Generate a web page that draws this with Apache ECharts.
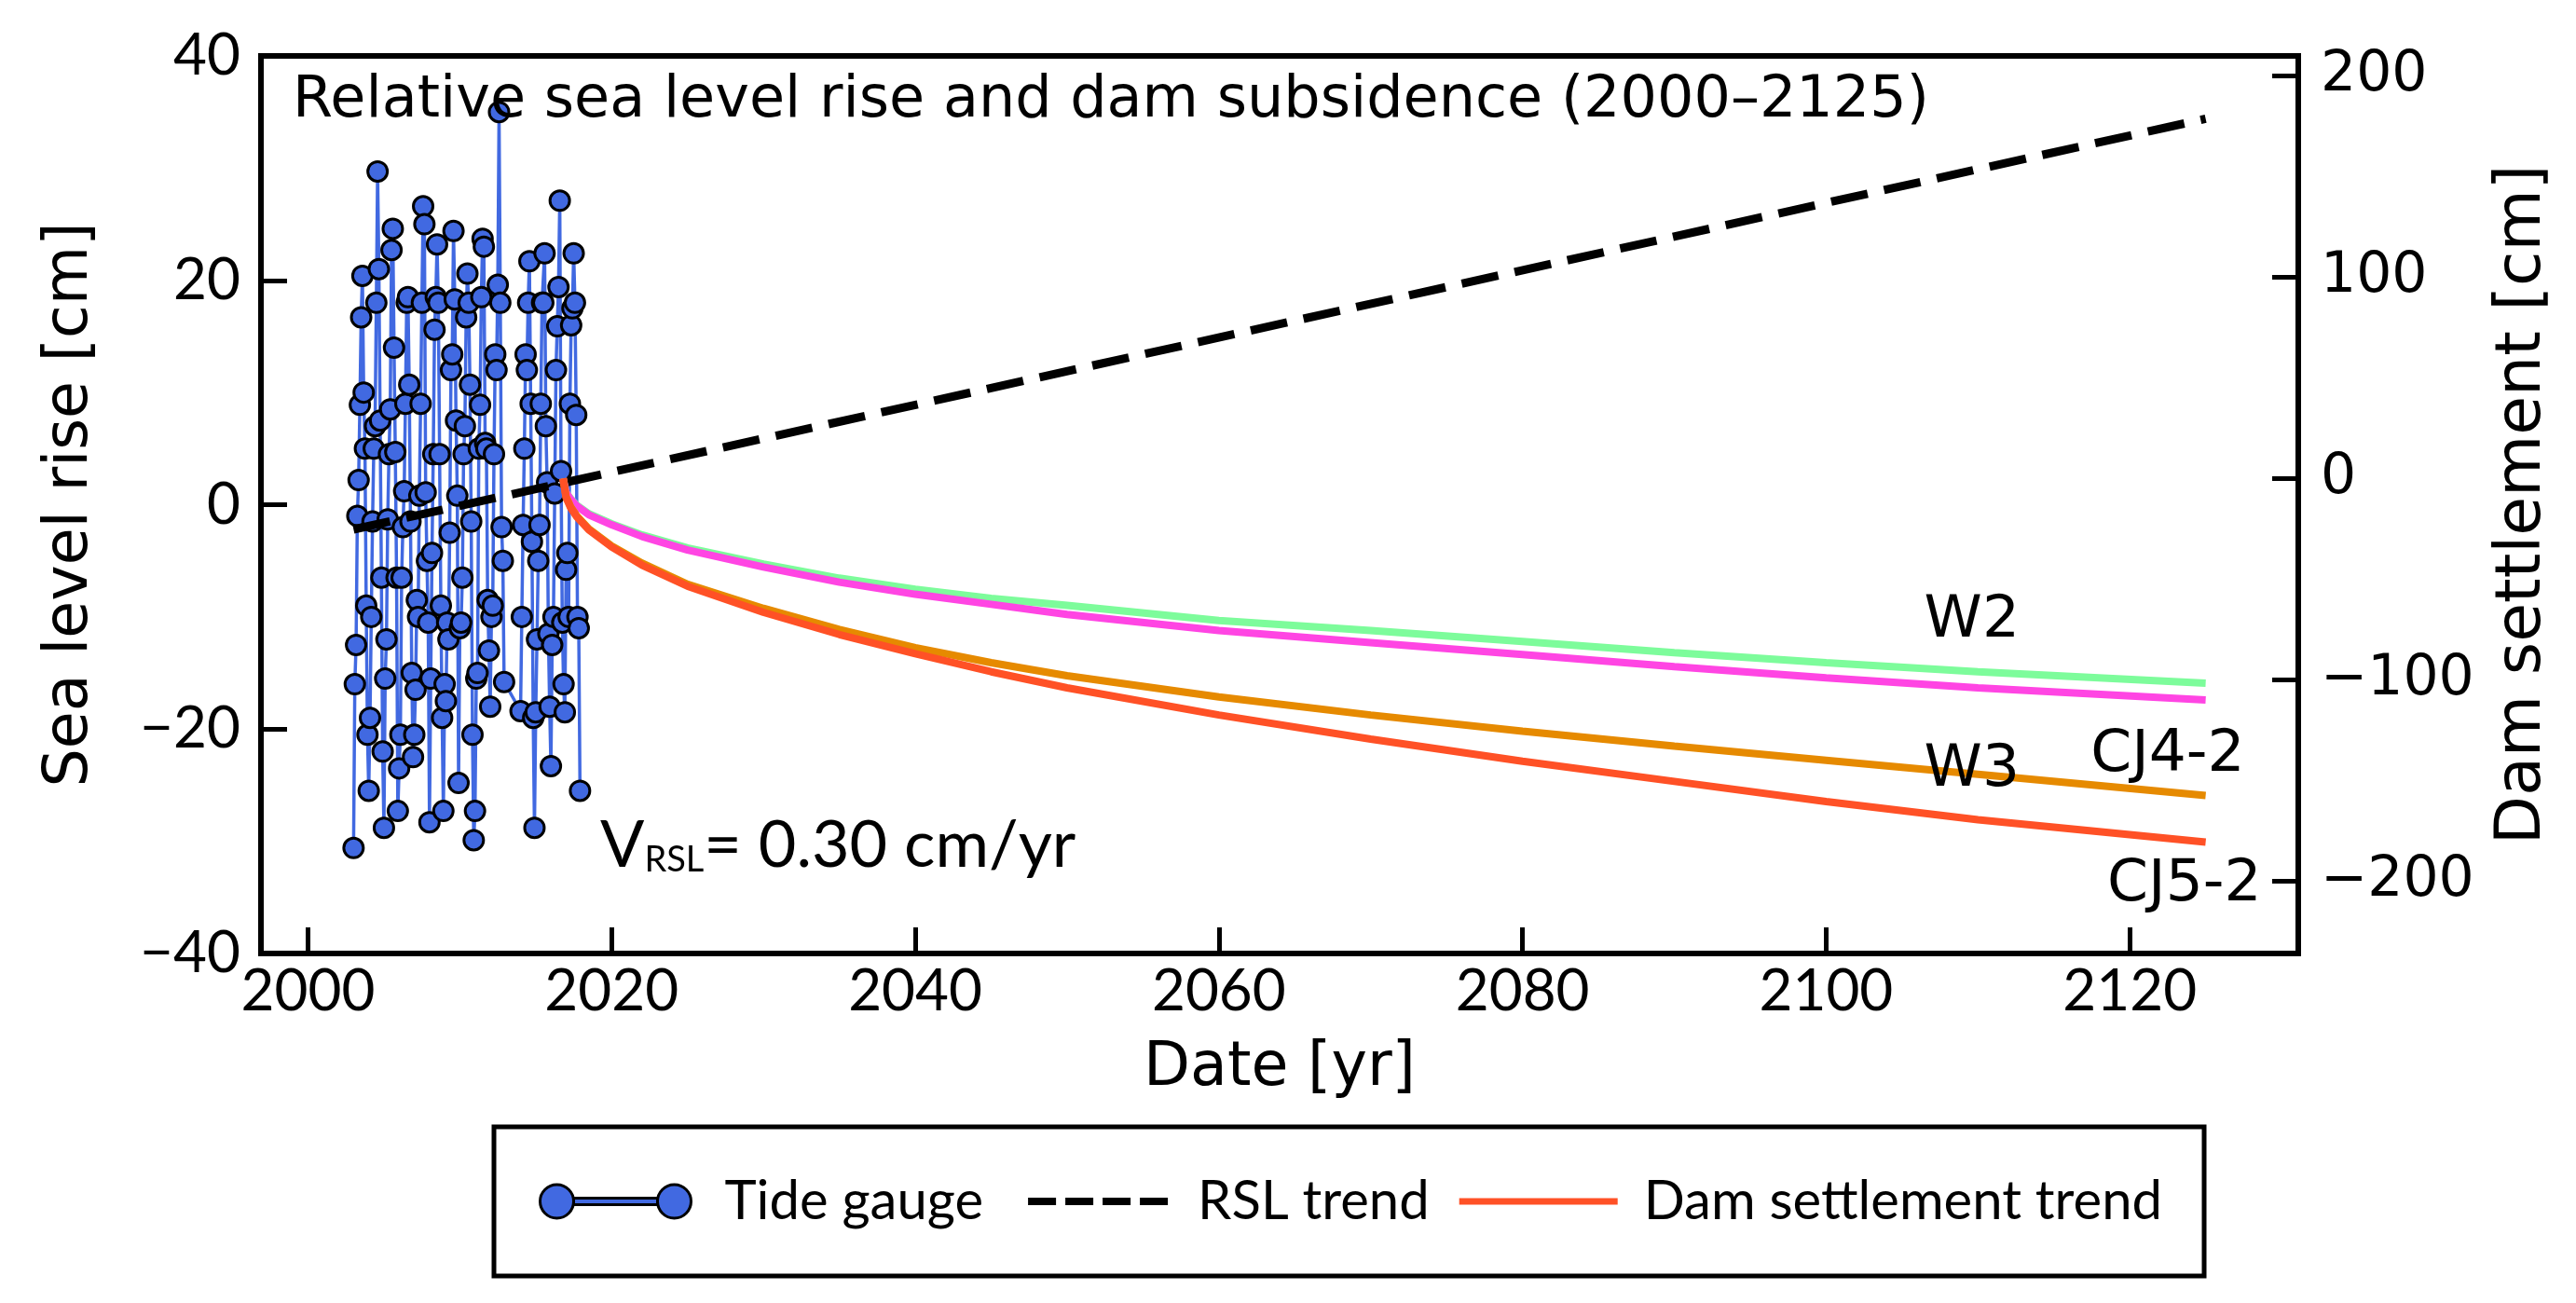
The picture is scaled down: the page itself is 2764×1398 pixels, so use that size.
<!DOCTYPE html>
<html>
<head>
<meta charset="utf-8">
<title>Relative sea level rise and dam subsidence</title>
<script src="https://cdn.jsdelivr.net/npm/echarts@6.0.0/dist/echarts.min.js"></script>
<style>
  html, body { margin: 0; padding: 0; background: #fff; }
  #main { width: 2764px; height: 1398px; }
</style>
</head>
<body>
<div id="main"></div>
<script>
// tide gauge, monthly means [cm], Jan..Dec (2013 missing)
var tideYears = [2003, 2004, 2005, 2006, 2007, 2008, 2009, 2010, 2011, 2012, 2014, 2015, 2016, 2017];
var tideMonthly = [
  [-30.6, -16, -12.5, -1, 2.2, 8.9, 16.7, 20.4, 10, 5, -9, -20.5],
  [-25.5, -19, -10, -1.5, 5, 7, 18, 29.7, 21, 7.5, -6.5, -22],
  [-28.8, -15.5, -12, -1.3, 4.5, 8.5, 22.7, 24.6, 14, 4.7, -6.5, -27.3],
  [-23.5, -20.5, -6.5, -2, 1.2, 9, 18, 18.5, 10.7, -1.5, -15, -22.5],
  [-20.5, -16.5, -8.5, -10, 0.8, 9, 18, 26.6, 25, 1.1, -5, -10.5],
  [-28.3, -15.5, -4.3, 4.5, 15.6, 18.5, 23.2, 18, 4.5, -9, -19, -27.3],
  [-16, -17.5, -10.5, -12, -2.5, 12, 13.4, 24.4, 18.3, 7.5, 0.8, -24.8],
  [-11, -10.5, -6.5, 4.5, 7, 16.7, 20.6, 18, 10.7, -1.5, -20.5, -29.9],
  [-27.3, -15.5, -15, 5, 8.9, 18.5, 23.7, 23, 5.5, 5, -8.5, -13],
  [-18, -10, -9, 4.5, 13.4, 12, 19.6, 35, 18, -2, -5, -15.8],
  [-18.4, -10, -1.8, 5, 13.4, 12, 18, 21.7, 9, -3.3, -19, -28.8],
  [-18.5, -12, -5, -1.8, 9, 18, 18, 22.4, 7, 2, -11.5, -18],
  [-23.3, -12.5, -10, 1, 12, 15.9, 19.4, 27.1, 3, -10.5, -16, -18.5],
  [-5.8, -4.3, -10, 9, 16, 17.5, 22.4, 18, 8, -10, -11, -25.5]
];

// relative sea level trend (0.30 cm/yr), left axis
var rslYears = [2003, 2125];
var rslValues = [-2.2, 34.4];

// dam settlement trends [cm], right axis
var damYears = [2016.8, 2017.0, 2017.3, 2017.7, 2018.5, 2020, 2022, 2025, 2030, 2035, 2040, 2045, 2050, 2060, 2070, 2080, 2090, 2100, 2110, 2125];
var damW2   = [0, -7, -10, -13.3, -17.5, -22.5, -28, -34.5, -42.5, -49.5, -55, -59.5, -63, -70.5, -75.5, -81, -86.5, -91.5, -96, -101.7];
var damW3   = [0, -7, -10.3, -13.6, -18, -23, -28.8, -35.5, -44, -51.5, -57.5, -62.5, -67.5, -75.5, -81.5, -87.5, -93.5, -99, -104, -110];
var damCJ42 = [0, -9, -14, -18.5, -25, -33.5, -42, -52.5, -64.5, -75, -84, -91.5, -98, -108.5, -117.5, -125.5, -133, -140, -147, -157.5];
var damCJ52 = [0, -9.5, -14.5, -19, -25.5, -34, -43, -53.5, -66.5, -77.5, -87, -96, -104, -117.5, -129.5, -140.5, -150.5, -160.5, -169.5, -180.7];

var xTicks = [2000, 2020, 2040, 2060, 2080, 2100, 2120];
var rightTicks = [-200, -100, 0, 100, 200];

// curve names and where they are written (year, settlement)
var curveNames = ['W2', 'W3', 'CJ4-2', 'CJ5-2'];
var curveNameYears = [2109.6, 2109.6, 2122.5, 2123.6];
var curveNameValues = [-71, -145, -137.5, -202];

var SANS = 'Lato';
var DEJAVU = 'DejaVu Sans';

function pairs(xs, ys) {
  return xs.map(function (x, i) { return [x, ys[i]]; });
}
function minus(v) {
  return String(v).replace('-', '\u2212');
}

var tideData = [];
tideYears.forEach(function (yr, k) {
  tideMonthly[k].forEach(function (v, m) {
    tideData.push([yr + m / 12, v]);
  });
});

var labelData = curveNames.map(function (n, i) {
  return { name: n, value: [curveNameYears[i], curveNameValues[i]] };
});

var chart = echarts.init(document.getElementById('main'));

var tickStyle = { color: '#000', width: 5 };
var tickText = { fontSize: 62, fontFamily: SANS, color: '#000' };
var nameText = { fontSize: 65, fontFamily: DEJAVU, color: '#000' };
// every legend icon shares a 181 x 36 box
var bbox = ' M0,0 Z M181,36 Z';

var option = {
  animation: false,
  backgroundColor: '#fff',
  title: {
    text: 'Relative sea level rise and dam subsidence (2000\u20132125)',
    left: 314,
    top: 78,
    padding: 0,
    textStyle: { fontSize: 62, fontWeight: 'normal', fontFamily: DEJAVU, color: '#000' }
  },
  grid: {
    left: 280, right: 298, top: 60, bottom: 375,
    show: true, borderColor: '#000', borderWidth: 6,
    outerBoundsMode: 'none'
  },
  legend: {
    left: 530,
    top: 1209,
    orient: 'horizontal',
    padding: [44, 45, 44, 48],
    itemGap: 32,
    itemWidth: 181,
    itemHeight: 36,
    borderColor: '#000',
    borderWidth: 5,
    borderRadius: 0,
    backgroundColor: '#fff',
    textStyle: { fontSize: 58, fontFamily: SANS, color: '#000', lineHeight: 72, padding: [0, 0, 0, 12] },
    data: [
      {
        name: 'Tide gauge',
        icon: 'path://M0,18 a18,18 0 1,0 36,0 a18,18 0 1,0 -36,0 Z M36,14.5 L126,14.5 L126,21.5 L36,21.5 Z M126,18 a18,18 0 1,0 36,0 a18,18 0 1,0 -36,0 Z' + bbox,
        itemStyle: { color: '#4169e1', borderColor: '#000', borderWidth: 3 }
      },
      {
        name: 'RSL trend',
        icon: 'path://M16,14 L46,14 L46,22 L16,22 Z M56,14 L86,14 L86,22 L56,22 Z M96,14 L126,14 L126,22 L96,22 Z M136,14 L166,14 L166,22 L136,22 Z' + bbox,
        itemStyle: { color: '#000', borderWidth: 0 }
      },
      {
        name: 'Dam settlement trend',
        icon: 'path://M0,14.5 L170,14.5 L170,21.5 L0,21.5 Z' + bbox,
        itemStyle: { color: '#ff5126', borderWidth: 0 }
      }
    ]
  },
  xAxis: {
    type: 'value',
    min: 1996.9,
    max: 2131.1,
    name: 'Date [yr]',
    nameLocation: 'middle',
    nameGap: 92,
    nameTextStyle: nameText,
    axisLine: { show: true, onZero: false, lineStyle: { color: '#000', width: 6 } },
    axisTick: { show: true, inside: true, length: 28, customValues: xTicks, lineStyle: tickStyle },
    axisLabel: Object.assign({ customValues: xTicks, margin: 10, formatter: function (v) { return String(v); } }, tickText),
    splitLine: { show: false }
  },
  yAxis: [
    {
      type: 'value',
      position: 'left',
      min: -40,
      max: 40,
      interval: 20,
      name: 'Sea level rise [cm]',
      nameLocation: 'middle',
      nameRotate: 90,
      nameGap: 171,
      nameTextStyle: nameText,
      axisLine: { show: true, onZero: false, lineStyle: { color: '#000', width: 6 } },
      axisTick: { show: true, inside: true, length: 28, lineStyle: tickStyle },
      axisLabel: Object.assign({ margin: 22, formatter: minus }, tickText),
      splitLine: { show: false }
    },
    {
      type: 'value',
      position: 'right',
      min: -236,
      max: 210,
      name: 'Dam settlement [cm]',
      nameLocation: 'middle',
      nameRotate: 90,
      nameGap: 207,
      nameTextStyle: { fontSize: 68, fontFamily: DEJAVU, color: '#000' },
      axisLine: { show: true, onZero: false, lineStyle: { color: '#000', width: 6 } },
      axisTick: { show: true, inside: true, length: 28, customValues: rightTicks, lineStyle: tickStyle },
      axisLabel: { margin: 24, customValues: rightTicks, formatter: minus, fontSize: 60, fontFamily: DEJAVU, color: '#000' },
      splitLine: { show: false }
    }
  ],
  graphic: [
    {
      type: 'text',
      left: 644,
      top: 872,
      style: {
        text: '{v|V}{s|RSL}{v|= 0.30 cm/yr}',
        rich: {
          v: { fontSize: 70, fontFamily: SANS, fill: '#000', lineHeight: 84, verticalAlign: 'bottom' },
          s: { fontSize: 38, fontFamily: SANS, fill: '#000', lineHeight: 36, verticalAlign: 'bottom' }
        }
      }
    }
  ],
  series: [
    {
      name: 'Tide gauge',
      type: 'line',
      data: tideData,
      z: 2,
      symbol: 'circle',
      symbolSize: 21,
      showAllSymbol: true,
      lineStyle: { color: '#4169e1', width: 3.5 },
      itemStyle: { color: '#4169e1', borderColor: '#000', borderWidth: 3 }
    },
    {
      name: 'RSL trend',
      type: 'line',
      data: pairs(rslYears, rslValues),
      z: 3,
      symbol: 'none',
      lineStyle: { color: '#000', width: 9, type: [40, 18] },
      itemStyle: { color: '#000' }
    },
    {
      name: 'W2',
      type: 'line',
      yAxisIndex: 1,
      data: pairs(damYears, damW2),
      z: 4,
      symbol: 'none',
      lineStyle: { color: '#7dfc9b', width: 8 },
      itemStyle: { color: '#7dfc9b' }
    },
    {
      name: 'W3',
      type: 'line',
      yAxisIndex: 1,
      data: pairs(damYears, damW3),
      z: 5,
      symbol: 'none',
      lineStyle: { color: '#ff45e3', width: 8 },
      itemStyle: { color: '#ff45e3' }
    },
    {
      name: 'CJ4-2',
      type: 'line',
      yAxisIndex: 1,
      data: pairs(damYears, damCJ42),
      z: 6,
      symbol: 'none',
      lineStyle: { color: '#e68a00', width: 8 },
      itemStyle: { color: '#e68a00' }
    },
    {
      name: 'Dam settlement trend',
      type: 'line',
      yAxisIndex: 1,
      data: pairs(damYears, damCJ52),
      z: 7,
      symbol: 'none',
      lineStyle: { color: '#ff5126', width: 8 },
      itemStyle: { color: '#ff5126' }
    },
    {
      name: 'curve names',
      type: 'scatter',
      yAxisIndex: 1,
      data: labelData,
      z: 8,
      symbolSize: 0,
      silent: true,
      itemStyle: { opacity: 1 },
      label: {
        show: true,
        position: 'inside',
        formatter: '{b}',
        fontSize: 63,
        fontFamily: DEJAVU,
        color: '#000',
        opacity: 1
      }
    }
  ]
};

chart.setOption(option);
window.onresize = chart.resize;
</script>
</body>
</html>
